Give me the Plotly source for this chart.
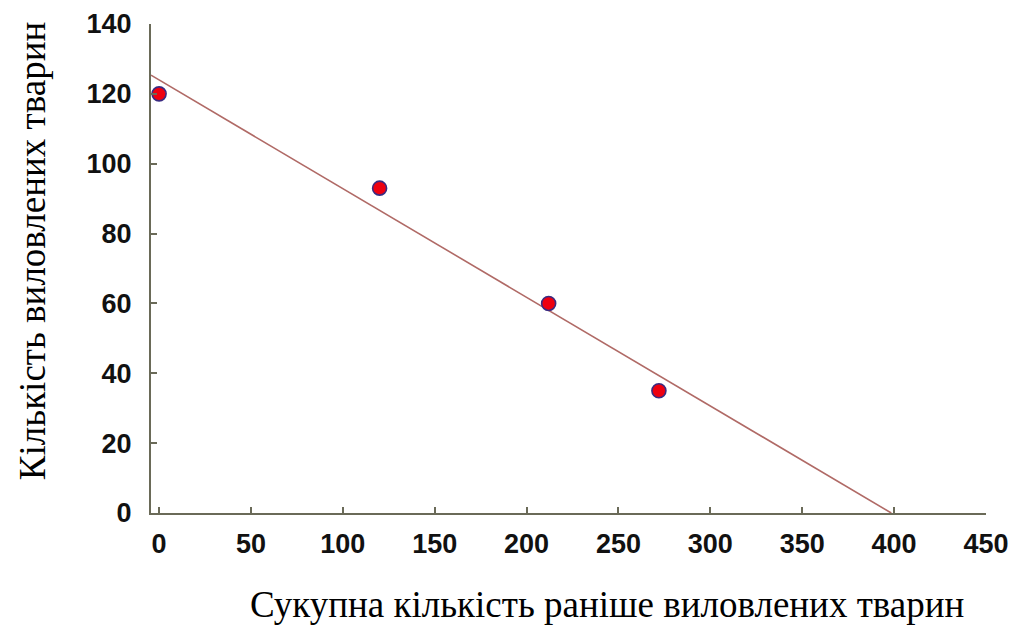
import numpy as np
import plotly.graph_objects as go

# Data
cum_caught = [0, 120, 212, 272]        # Сукупна кількість раніше виловлених тварин
caught = [120, 93, 60, 35]             # Кількість виловлених тварин
x_ticks = [0, 50, 100, 150, 200, 250, 300, 350, 400, 450]
y_ticks = [0, 20, 40, 60, 80, 100, 120, 140]

x_title = "Сукупна кількість раніше виловлених тварин"
y_title = "Кількість виловлених тварин"

x_range = [-4.4, 450]
y_range = [0, 140]

# Linear regression trend line (Leslie method)
slope, intercept = np.polyfit(cum_caught, caught, 1)
x_end = -intercept / slope
trend_x = [x_range[0], x_end]
trend_y = [intercept + slope * v for v in trend_x]

fig = go.Figure()
fig.add_trace(go.Scatter(
    x=trend_x, y=trend_y, mode="lines",
    line=dict(color="#b06a66", width=1.6),
    hoverinfo="skip", showlegend=False,
))
fig.add_trace(go.Scatter(
    x=cum_caught, y=caught, mode="markers",
    marker=dict(symbol="circle", size=14, color="#ee0010",
                line=dict(color="#3a2a80", width=1.6)),
    showlegend=False,
))

tick_font = dict(family="Liberation Sans, Arial, sans-serif", size=27, color="#111111", weight="bold")
axis_color = "#6a6a58"

fig.update_xaxes(
    range=x_range, tickvals=x_ticks, ticktext=[str(v) for v in x_ticks],
    showgrid=False, zeroline=False, showline=True, linecolor=axis_color, linewidth=2,
    ticks="inside", ticklen=6, tickwidth=1.5, tickcolor=axis_color,
    tickfont=tick_font, ticklabelstandoff=6, automargin=False,
)
fig.update_yaxes(
    range=y_range, tickvals=y_ticks, ticktext=[str(v) for v in y_ticks],
    showgrid=False, zeroline=False, showline=True, linecolor=axis_color, linewidth=2,
    ticks="inside", ticklen=6, tickwidth=1.5, tickcolor=axis_color,
    tickfont=tick_font, ticklabelstandoff=12, automargin=False,
)

title_font = dict(family="Liberation Serif, Times New Roman, serif", size=37, color="#000000")
fig.add_annotation(
    text=x_title, xref="paper", yref="paper", x=0.546, y=-0.188,
    xanchor="center", yanchor="middle", showarrow=False, font=title_font,
)
fig.add_annotation(
    text=y_title, xref="paper", yref="paper", x=-0.141, y=0.536,
    xanchor="center", yanchor="middle", textangle=-90, showarrow=False, font=title_font,
)

fig.update_layout(
    width=1019, height=625,
    margin=dict(l=143, r=41, t=16, b=120),
    paper_bgcolor="white", plot_bgcolor="white",
    font=dict(family="Liberation Sans, Arial, sans-serif"),
)

fig.write_html("out.html")
